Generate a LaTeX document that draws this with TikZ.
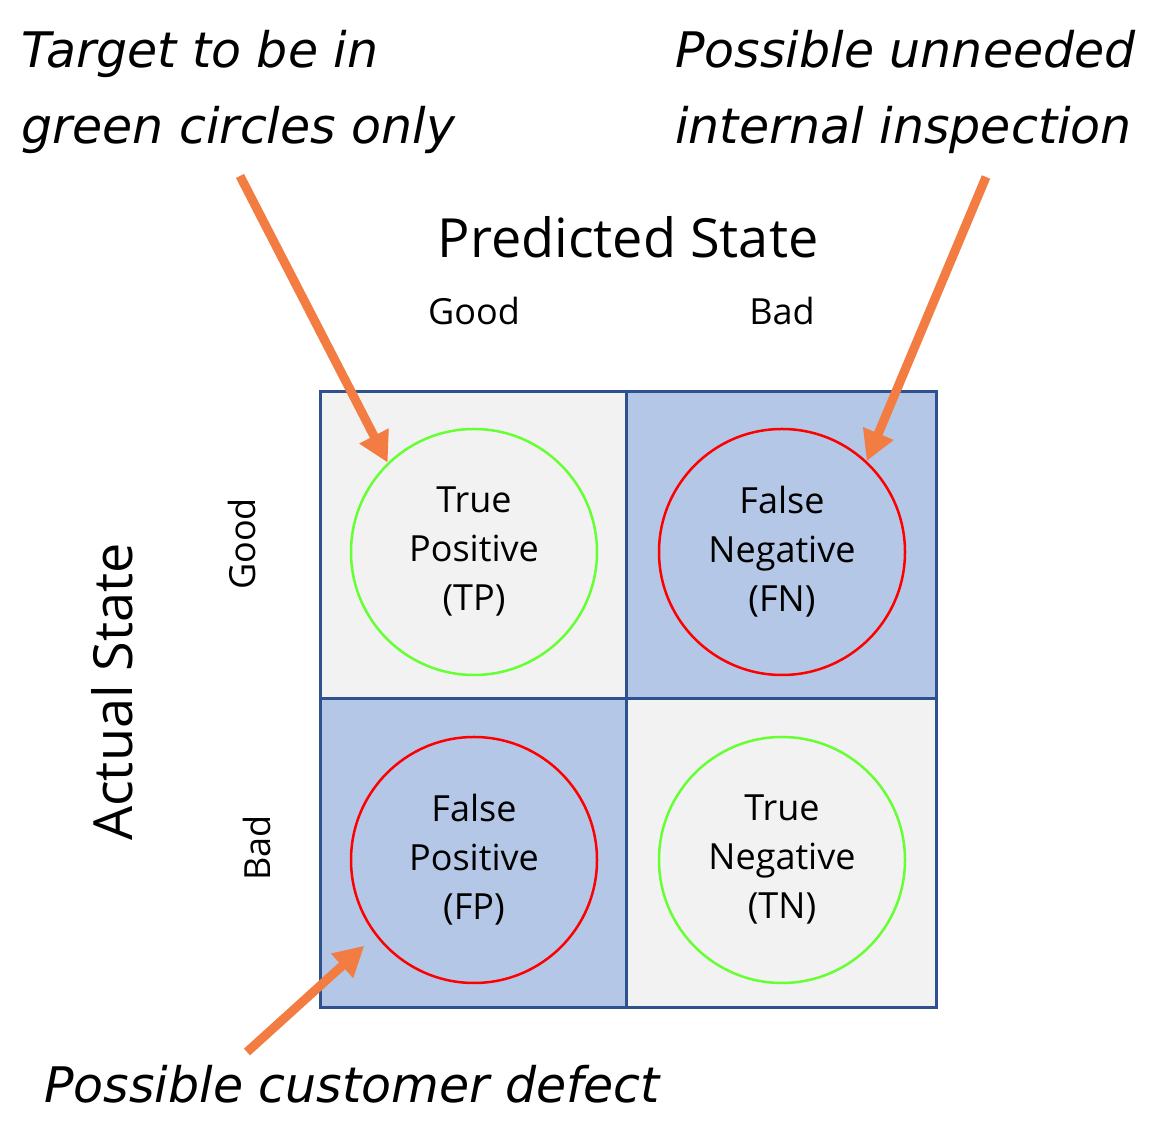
\documentclass[tikz,border=0pt]{standalone}
\usepackage{fontspec}
\setmainfont{Open Sans}
\newfontfamily\notefont{DejaVu Sans}
\usetikzlibrary{arrows.meta}
\definecolor{gridblue}{RGB}{47,82,143}
\definecolor{cellblue}{RGB}{180,199,231}
\definecolor{cellgray}{RGB}{242,242,242}
\definecolor{okgreen}{RGB}{102,255,51}
\definecolor{calloutorange}{RGB}{242,124,66}
\begin{document}
\begin{tikzpicture}[x=1pt,y=1pt,
  cellline/.style={draw=gridblue,line width=3pt},
  statecircle/.style={circle,minimum size=246pt,inner sep=0pt,line width=2.5pt,align=center,
    font=\fontsize{36}{49}\selectfont},
  goodcircle/.style={statecircle,draw=okgreen},
  badcircle/.style={statecircle,draw=red},
  callout/.style={draw=calloutorange,line width=9pt,-{Triangle[length=30pt,width=31pt]}},
  note/.style={font=\notefont\fontsize{49}{76}\selectfont\itshape,align=left,inner sep=0pt},
  axistitle/.style={font=\fontsize{54}{64}\selectfont,inner sep=0pt},
  axislabel/.style={font=\fontsize{36}{42}\selectfont,inner sep=0pt}]
\useasboundingbox (0,0) rectangle (1165,1137);
\fill[white] (0,0) rectangle (1165,1137);
% cells
\fill[cellgray] (320,438) rectangle (626,745);
\fill[cellblue] (626,438) rectangle (936,745);
\fill[cellblue] (320,129) rectangle (626,438);
\fill[cellgray] (626,129) rectangle (936,438);
\draw[cellline] (320,129) rectangle (936,745);
\draw[cellline] (626,129) -- (626,745);
\draw[cellline] (320,438) -- (936,438);
% circles
\node[goodcircle] (tp) at (474,585) {True\\Positive\\(TP)};
\node[badcircle] (fn) at (782,585) {False\\Negative\\(FN)};
\node[badcircle] (fp) at (474,277) {False\\Positive\\(FP)};
\node[goodcircle] (tn) at (782,277) {True\\Negative\\(TN)};
% axis texts
\node[axistitle,anchor=base] (pred) at (628,879) {Predicted State};
\node[axislabel,anchor=base] (pgood) at (474,812) {Good};
\node[axislabel,anchor=base] (pbad) at (782,812) {Bad};
\node[axistitle,anchor=base,rotate=90] (act) at (132,445) {Actual State};
\node[axislabel,anchor=base,rotate=90] (agood) at (255,593) {Good};
\node[axislabel,anchor=base,rotate=90] (abad) at (270,289) {Bad};
% notes
\node[note,anchor=base west] (n1) at (21,993) {Target to be in\\green circles only};
\node[note,anchor=base west] (n2) at (675,993) {Possible unneeded\\internal inspection};
\node[note,anchor=base west] (n3) at (44,34) {Possible customer defect};
% callout arrows
\coordinate (s1) at (240,961);
\coordinate (s2) at (986,960);
\coordinate (s3) at (247,85);
\draw[callout] (s1) -- (tp.134);
\draw[callout] (s2) -- (fn.47);
\draw[callout] (s3) -- ([shift={(218:15)}]fp.218);
\end{tikzpicture}
\end{document}
